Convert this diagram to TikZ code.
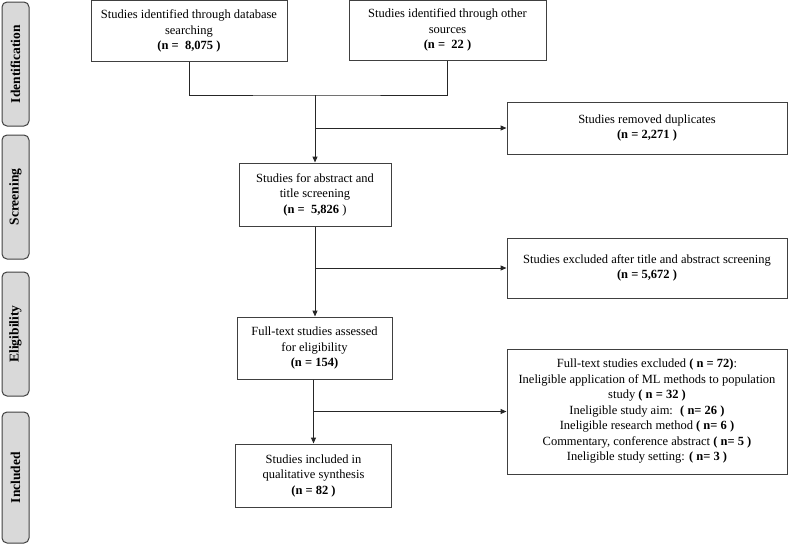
\documentclass[tikz,border=0pt]{standalone}
\usepackage{fontspec}
\setmainfont{Liberation Serif}
\usetikzlibrary{arrows.meta}
\begin{document}
\begin{tikzpicture}[x=1pt,y=-1pt,
  box/.style={draw=black!75,line width=1pt,fill=white,inner sep=0pt,align=center,
    font=\fontsize{12.5}{15.5}\selectfont},
  phase/.style={draw=black!75,line width=1pt,fill=black!15,rounded corners=5pt,
    inner sep=0pt,minimum height=27pt,rotate=90,font=\fontsize{13.5}{16}\selectfont\bfseries},
  conn/.style={draw=black!85,line width=1pt},
  arr/.style={conn,-{Triangle[length=6pt,width=5pt]}}]
\useasboundingbox (0,0) rectangle (788,544);

% phase labels
\node[phase,minimum width=124pt] (pid) at (15.5,64) {Identification};
\node[phase,minimum width=124pt] (psc) at (15.5,197) {Screening};
\node[phase,minimum width=124pt] (pel) at (15.5,334) {Eligibility};
\node[phase,minimum width=131pt] (pin) at (15.5,477.5) {Included};

% boxes
\node[box,minimum width=196pt,minimum height=61pt] (db) at (189,31)
  {Studies identified through database\\ searching\\ \textbf{(n =~ 8,075 )}};
\node[box,minimum width=197pt,minimum height=60pt] (os) at (447.5,30)
  {Studies identified through other\\ sources\\ \textbf{(n =~ 22 )}};
\node[box,minimum width=280pt,minimum height=52pt] (dup) at (647,128)
  {Studies removed duplicates\\ \textbf{(n = 2,271 )}};
\node[box,minimum width=152pt,minimum height=63pt] (scr) at (315,194.5)
  {Studies for abstract and\\ title screening\\ \textbf{(n =~ 5,826} )};
\node[box,minimum width=280pt,minimum height=60pt] (ex1) at (647,268)
  {Studies excluded after title and abstract screening\\ \textbf{(n = 5,672 )}};
\node[box,minimum width=155pt,minimum height=62pt] (ft) at (314.5,348)
  {Full-text studies assessed\\ for eligibility\\ \textbf{(n = 154)}};
\node[box,minimum width=280pt,minimum height=125pt] (ex2) at (647,411.5)
  {Full-text studies excluded \textbf{( n = 72)}:\\
   Ineligible application of ML methods to population\\
   study \textbf{( n = 32 )}\\
   Ineligible study aim:~ \textbf{( n= 26 )}\\
   Ineligible research method \textbf{( n= 6 )}\\
   Commentary, conference abstract \textbf{( n= 5 )}\\
   Ineligible study setting: \textbf{( n= 3 )}};
\node[box,minimum width=156pt,minimum height=63pt] (inc) at (313.5,475.5)
  {Studies included in\\ qualitative synthesis\\ \textbf{(n = 82 )}};

% connectors
\coordinate (j1) at (315,95);
\draw[conn] (db.south) |- (j1) -| (os.south);
\draw[arr] (j1) -- (scr.north);
\draw[arr] (j1 |- dup.west) -- (dup.west);
\draw[arr] (scr.south) -- (scr.south |- ft.north);
\draw[arr] (scr.south |- ex1.west) -- (ex1.west);
\draw[arr] (ft.south -| inc.north) -- (inc.north);
\draw[arr] (inc.north |- ex2.west) -- (ex2.west);
\end{tikzpicture}
\end{document}
